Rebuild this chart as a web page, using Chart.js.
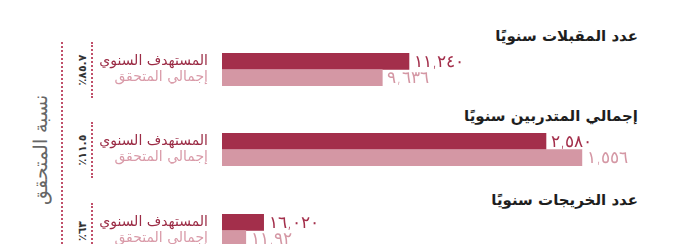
<!DOCTYPE html>
<html>
<head>
<meta charset="utf-8">
<script src="https://cdn.jsdelivr.net/npm/chart.js@4/dist/chart.umd.min.js"></script>
<style>
  body { margin: 0; background: #fff; font-family: "DejaVu Sans", sans-serif; }
  #page { position: relative; width: 678px; height: 244px; overflow: hidden; }
  canvas.bars { position: absolute; left: 100px; }
  .title { position: absolute; right: 40px; font-weight: bold; font-size: 15px; color: #1e1e1e; direction: rtl; white-space: nowrap; transform: translateY(-50%); }
  .dots { position: absolute; border-left: 2px dotted #c0506a; width: 0; }
  .pct { position: absolute; left: 82px; font-size: 11px; font-weight: bold; color: #333; white-space: nowrap; transform: translate(-50%, -50%) rotate(-90deg); }
  #side { position: absolute; left: 40px; top: 150px; font-size: 19px; font-weight: 200; color: #666; white-space: nowrap; direction: rtl; transform: translate(-50%, -50%) rotate(-90deg); }
</style>
</head>
<body>
<div id="page">
  <div id="side">نسبة المتحقق</div>
  <div class="dots" style="left:61px; top:42px; height:210px;"></div>
</div>
<script>
const categories = ['المستهدف السنوي', 'إجمالي المتحقق'];
const panelTitles = ['عدد المقبلات سنويًا', 'إجمالي المتدربين سنويًا', 'عدد الخريجات سنويًا'];
const targetValues = [11240, 2580, 16020];
const actualValues = [9636, 2866, 9150];
const targetLabels = ['١١,٢٤٠', '٢,٥٨٠', '١٦,٠٢٠'];
const actualLabels = ['٩,٦٣٦', '١,٥٥٦', '١١,٩٢'];
const percentLabels = ['٪٨٥.٧', '٪١١.٥', '٪٦٣'];
const axisMax = [26330, 3488, 168500];

const barTops = [53, 133, 214];
const titleY = [36, 116, 200];
const darkRed = '#a32f4b';
const lightRed = '#d497a4';

const page = document.getElementById('page');

const valueLabels = {
  id: 'valueLabels',
  afterDatasetsDraw(chart) {
    const c = chart.ctx;
    const i = chart.options.plugins.valueLabels.panel;
    const meta = chart.getDatasetMeta(0);
    const texts = [targetLabels[i], actualLabels[i]];
    c.save();
    c.font = '200 17px "DejaVu Sans"';
    c.textBaseline = 'middle';
    c.textAlign = 'left';
    meta.data.forEach((bar, k) => {
      c.fillStyle = k === 0 ? darkRed : lightRed;
      c.fillText(texts[k], bar.x + 5, bar.y + 1);
    });
    c.restore();
  }
};

panelTitles.forEach((t, i) => {
  const title = document.createElement('div');
  title.className = 'title';
  title.style.top = titleY[i] + 'px';
  title.textContent = t;
  page.appendChild(title);

  const dots = document.createElement('div');
  dots.className = 'dots';
  dots.style.left = '91px';
  dots.style.top = (barTops[i] - 11) + 'px';
  dots.style.height = '56px';
  page.appendChild(dots);

  const pct = document.createElement('div');
  pct.className = 'pct';
  pct.style.top = (barTops[i] + 17) + 'px';
  pct.textContent = percentLabels[i];
  page.appendChild(pct);

  const canvas = document.createElement('canvas');
  canvas.className = 'bars';
  canvas.width = 560;
  canvas.height = 45;
  canvas.style.top = (barTops[i] - 6) + 'px';
  page.appendChild(canvas);

  new Chart(canvas, {
    type: 'bar',
    data: {
      labels: categories,
      datasets: [{
        data: [targetValues[i], actualValues[i]],
        backgroundColor: [darkRed, lightRed],
        barPercentage: 1,
        categoryPercentage: 1
      }]
    },
    options: {
      indexAxis: 'y',
      responsive: false,
      devicePixelRatio: 1,
      animation: false,
      layout: { padding: { top: 6, bottom: 6, left: 0, right: 0 } },
      plugins: {
        legend: { display: false },
        tooltip: { enabled: false },
        valueLabels: { panel: i }
      },
      scales: {
        x: { display: false, min: 0, max: axisMax[i] },
        y: {
          grid: { display: false },
          border: { display: false },
          afterFit(scale) {
            scale.width = 122;
            scale.paddingTop = 0;
            scale.paddingBottom = 0;
          },
          ticks: {
            padding: 6,
            autoSkip: false,
            font: { family: 'DejaVu Sans', size: 14 },
            color: (ctx) => ctx.index === 0 ? '#9b2b45' : '#d99aa8'
          }
        }
      }
    },
    plugins: [valueLabels]
  });
});
</script>
</body>
</html>
